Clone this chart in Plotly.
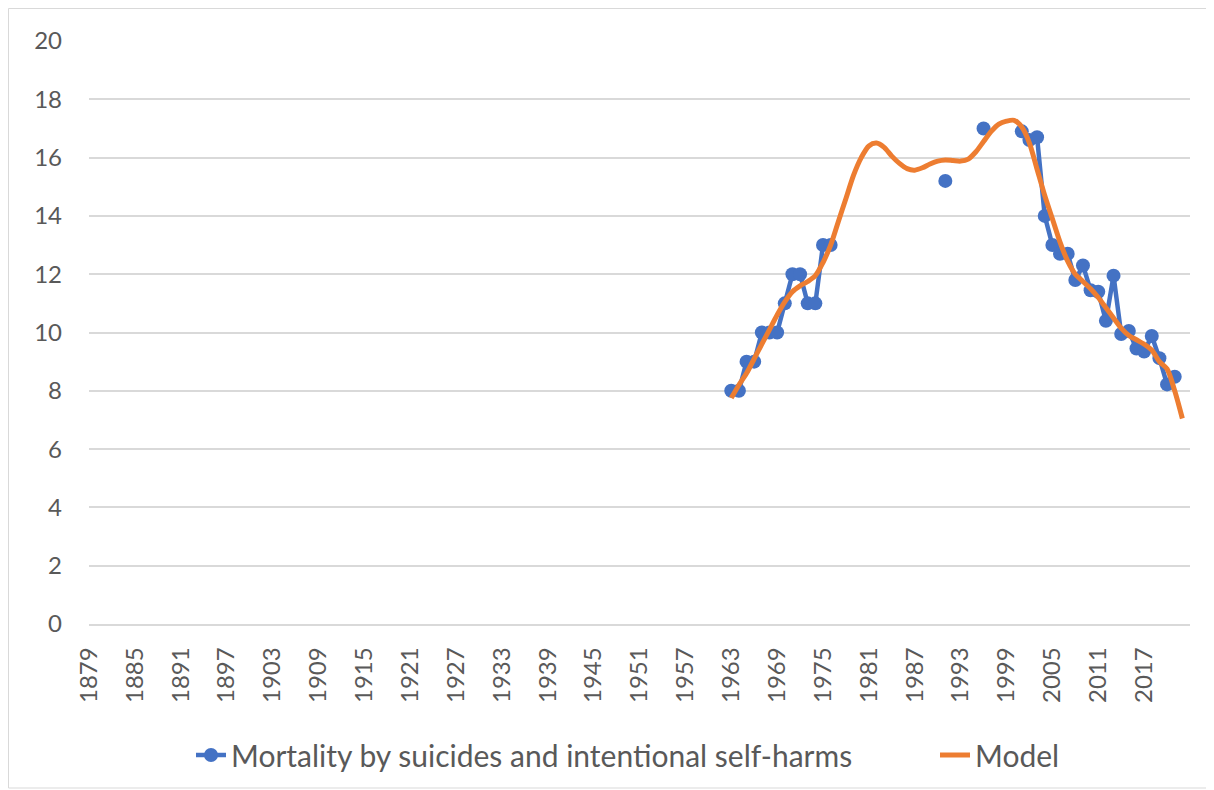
import plotly.graph_objects as go

# Category axis: years 1879..2023
years_axis_start = 1879
years_axis_end = 2023
tick_years = list(range(1879, 2018, 6))

# Observed mortality (None = missing year, line broken)
obs_years = list(range(1963, 2022))
obs_values = [
    8.0, 8.0, 9.0, 9.0, 10.0, 10.0, 10.0, 11.0, 12.0, 12.0, 11.0, 11.0, 13.0, 13.0,  # 1963-1976
    None, None, None, None, None, None, None, None, None, None, None, None, None, None,  # 1977-1990
    15.2, None, None, None, None, 17.0, None, None, None, None,  # 1991-2000
    16.9, 16.6, 16.7, 14.0, 13.0, 12.7, 12.7, 11.8, 12.3, 11.45,  # 2001-2010
    11.4, 10.4, 11.95, 9.95, 10.05, 9.45, 9.35, 9.88, 9.12, 8.22, 8.48,  # 2011-2021
]

# Model curve
model_years = list(range(1963, 2023))
model_values = [
    7.75, 8.2, 8.6, 9.1, 9.6, 10.1, 10.6, 11.05, 11.4, 11.6,  # 1963-1972
    11.75, 11.95, 12.4, 13.0, 13.8, 14.6, 15.4, 16.0, 16.4, 16.5,  # 1973-1982
    16.35, 16.05, 15.8, 15.62, 15.57, 15.65, 15.78, 15.88, 15.92, 15.9,  # 1983-1992
    15.88, 15.95, 16.2, 16.55, 16.9, 17.15, 17.25, 17.28, 17.05, 16.5,  # 1993-2002
    15.6, 14.7, 13.9, 13.1, 12.45, 12.0, 11.75, 11.5, 11.2, 10.85,  # 2003-2012
    10.5, 10.15, 9.9, 9.75, 9.6, 9.4, 9.0, 8.75, 8.0, 7.05,  # 2013-2022
]

series_names = ["Mortality by suicides and intentional self-harms", "Model"]
blue = "#4472C4"
orange = "#ED7D31"
font_family = "Lato, 'Liberation Sans', sans-serif"

fig = go.Figure()
fig.add_trace(go.Scatter(
    x=obs_years, y=obs_values, name=series_names[0],
    mode="lines+markers", connectgaps=False,
    line=dict(color=blue, width=4.5),
    marker=dict(color=blue, size=14),
    legend="legend",
))
fig.add_trace(go.Scatter(
    x=model_years, y=model_values, name=series_names[1],
    mode="lines", line=dict(color=orange, width=5, shape="spline", smoothing=0.8),
    legend="legend2",
))

W, H = 1214, 790
L, R, T, B = 81, 32, 33, 174
pw, ph = W - L - R, H - T - B
leg_y = -(747 - (T + ph)) / ph
leg_font = dict(size=30, color="#595959", family=font_family)

fig.update_layout(
    width=W, height=H,
    margin=dict(l=L, r=R, t=T, b=B),
    paper_bgcolor="white", plot_bgcolor="white",
    font=dict(family=font_family, color="#595959", size=24),
    showlegend=True,
    legend=dict(orientation="h", x=(191 - 8 - L) / pw, xanchor="left", y=leg_y,
                yanchor="middle", font=leg_font),
    legend2=dict(orientation="h", x=(935 - 8 - L) / pw, xanchor="left", y=leg_y,
                 yanchor="middle", font=leg_font),
    shapes=[dict(type="rect", xref="paper", yref="paper",
                 x0=(0.5 - L) / pw, x1=(1204 - L) / pw,
                 y0=(T + ph - 780) / ph, y1=(T + ph - 0.5) / ph,
                 line=dict(color="#d9d9d9", width=1), fillcolor="rgba(0,0,0,0)", layer="below")],
)
fig.update_xaxes(
    range=[years_axis_start, years_axis_end],
    tickmode="array", tickvals=tick_years, ticktext=[str(y) for y in tick_years],
    tickangle=-90, showgrid=False, zeroline=False,
    showline=True, linecolor="#d9d9d9", linewidth=1.5,
    ticks="", ticklabelstandoff=12, tickfont=dict(size=24, color="#595959"),
)
fig.update_yaxes(
    range=[0, 20], dtick=2, showgrid=True, gridcolor="#d9d9d9", gridwidth=1.5,
    zeroline=False, showline=False, ticks="", ticklabelstandoff=26,
    tickfont=dict(size=24, color="#595959"),
)

fig.write_html("out.html")
